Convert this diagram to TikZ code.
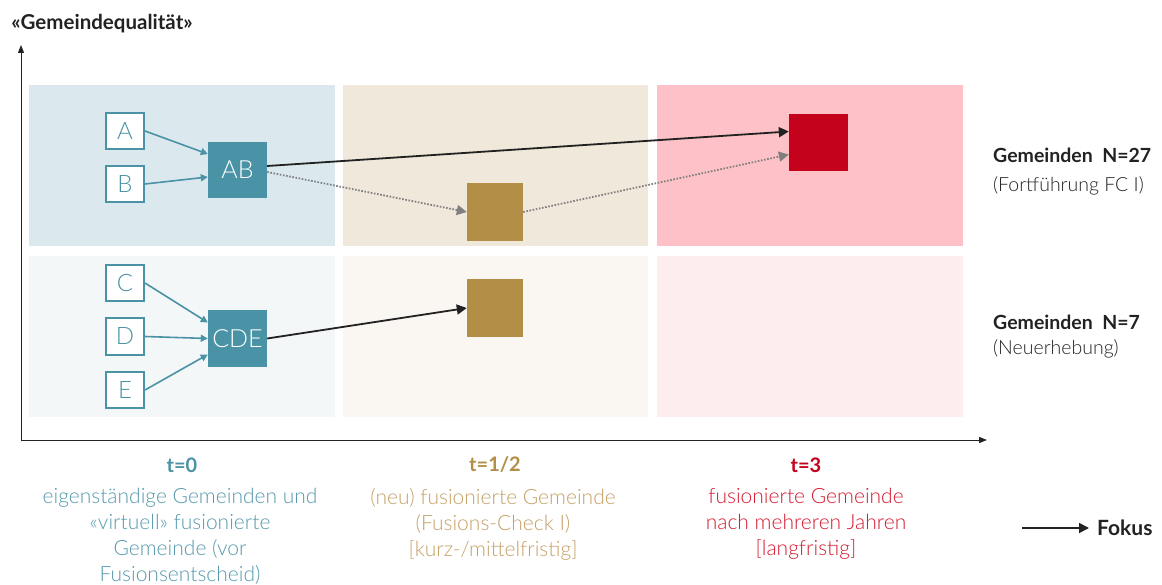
\documentclass[tikz,border=0pt]{standalone}
\usepackage{fontspec}
\setmainfont{Lato Light}[BoldFont=Lato Bold]
\usetikzlibrary{positioning,arrows.meta}

\definecolor{petrol}{HTML}{4A92A5}
\definecolor{petroltext}{HTML}{5599AC}
\definecolor{goldbox}{HTML}{B28E47}
\definecolor{goldtext}{HTML}{C4A064}
\definecolor{rotbox}{HTML}{C4021B}
\definecolor{rottext}{HTML}{D41A30}
\definecolor{blauA}{HTML}{DBE9EE}
\definecolor{blauB}{HTML}{F3F7F8}
\definecolor{beigeA}{HTML}{F0E8DA}
\definecolor{beigeB}{HTML}{FAF7F2}
\definecolor{rosaA}{HTML}{FDC1C7}
\definecolor{rosaB}{HTML}{FDEDEF}
\definecolor{dunkel}{HTML}{222222}

\begin{document}
\begin{tikzpicture}[x=1pt, y=-1pt,
    klein/.style={draw=petrol, line width=2pt, fill=white, minimum width=38pt, minimum height=36pt, inner sep=0pt, text=petrol, font=\fontsize{24}{24}\selectfont},
    gross/.style={fill=petrol, minimum width=59pt, minimum height=56pt, inner sep=0pt, text=white, font=\fontsize{25}{25}\selectfont},
    goldfeld/.style={fill=goldbox, minimum width=56pt, minimum height=58pt, inner sep=0pt},
    zu/.style={petrol, line width=1.6pt, -{Triangle[length=7pt, width=7pt]}},
    fokus/.style={dunkel, line width=1.8pt, -{Triangle[length=10pt, width=10pt]}},
    punkt/.style={gray, line width=1.8pt, dash pattern=on 1.6pt off 1.6pt, -{Triangle[length=10pt, width=10pt]}},
    achse/.style={dunkel, line width=1pt, -{Triangle[length=8pt, width=6pt]}},
    zeit/.style={font=\fontsize{20}{26}\selectfont\bfseries, inner sep=0pt},
    besch/.style={font=\fontsize{21}{26}\selectfont, align=center, inner sep=0pt, anchor=north},
    gruppe/.style={font=\fontsize{19.5}{22}\selectfont, text=dunkel, anchor=west, inner sep=0pt},
  ]
  \useasboundingbox (0,0) rectangle (1162,585);

  % Felder
  \fill[blauA] (29,85) rectangle (335,246);
  \fill[beigeA] (343,85) rectangle (648,246);
  \fill[rosaA] (657,85) rectangle (963,246);
  \fill[blauB] (29,256) rectangle (335,417);
  \fill[beigeB] (343,256) rectangle (648,417);
  \fill[rosaB] (657,256) rectangle (963,417);

  % Achsen
  \coordinate (ursprung) at (21,440);
  \coordinate (yende) at (21,45);
  \coordinate (xende) at (987,440);
  \draw[achse] (ursprung) -- (yende);
  \draw[achse] (ursprung) -- (xende);
  \node[font=\fontsize{20.5}{20}\selectfont\bfseries, text=dunkel] (qualitaet) at (102,24) {«Gemeindequalität»};

  % Gemeinden
  \node[klein] (a) at (125,131) {A};
  \node[klein] (b) at (125,184) {B};
  \node[gross] (ab) at (237.5,170) {AB};
  \node[klein] (c) at (125,283) {C};
  \node[klein] (d) at (125,336.5) {D};
  \node[klein] (e) at (125,390) {E};
  \node[gross] (cde) at (237.5,338.5) {CDE};
  \node[goldfeld] (fusion1) at (495,212) {};
  \node[goldfeld] (fusion2) at (495,308) {};
  \node[fill=rotbox, minimum width=59pt, minimum height=57pt, inner sep=0pt] (lang) at (818.5,142.5) {};

  % Verbindungen
  \draw[zu] (a.east) -- ([yshift=16pt]ab.west);
  \draw[zu] (b.east) -- ([yshift=-7pt]ab.west);
  \draw[zu] (c.east) -- ([yshift=16pt]cde.west);
  \draw[zu] (d.east) -- (cde.west);
  \draw[zu] (e.east) -- ([yshift=-16pt]cde.west);
  \draw[fokus] ([yshift=4pt]ab.east) -- ([yshift=11pt]lang.west);
  \draw[punkt] ([yshift=-2pt]ab.east) -- (fusion1.west);
  \draw[punkt] (fusion1.east) -- ([yshift=-12pt]lang.west);
  \draw[fokus] (cde.east) -- (fusion2.west);

  % Gruppen
  \node[gruppe, font=\fontsize{19.5}{22}\selectfont\bfseries] (n27) at (993,155) {Gemeinden\ \ N=27};
  \node[gruppe] (fc1) at (993,186) {(Fortführung FC I)};
  \node[gruppe, font=\fontsize{19.5}{22}\selectfont\bfseries] (n7) at (993,322) {Gemeinden\ \ N=7};
  \node[gruppe] (neu) at (993,349) {(Neuerhebung)};

  % Zeitpunkte
  \node[zeit, text=petrol] (t0) at (182,465) {t=0};
  \node[besch, text=petroltext] (text0) at (180,488) {eigenständige Gemeinden und\\«virtuell» fusionierte\\Gemeinde (vor\\Fusionsentscheid)};
  \node[zeit, text=goldbox] (t12) at (495,465) {t=1/2};
  \node[besch, text=goldtext] (text12) at (493,488) {(neu) fusionierte Gemeinde\\(Fusions-Check I)\\{[}kurz-/mittelfristig{]}};
  \node[zeit, text=rotbox] (t3) at (806,465) {t=3};
  \node[besch, text=rottext] (text3) at (806,488) {fusionierte Gemeinde\\nach mehreren Jahren\\{[}langfristig{]}};

  % Legende
  \coordinate (fokstart) at (1022,528);
  \node[font=\fontsize{21}{21}\selectfont\bfseries, text=dunkel, anchor=west, inner sep=1pt] (fok) at (1096,528) {Fokus};
  \draw[fokus] (fokstart) -- ([xshift=-7pt]fok.west);
\end{tikzpicture}
\end{document}
